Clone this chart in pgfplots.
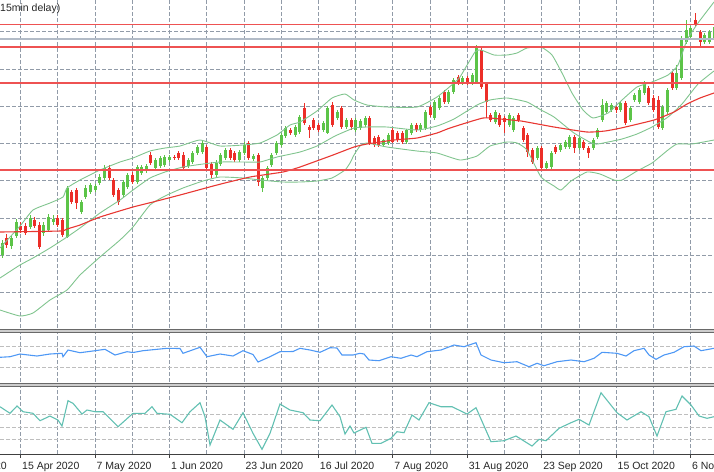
\documentclass[border=0pt]{standalone}
\usepackage{fontspec}
\setmainfont{Liberation Sans}
\usepackage{pgfplots}
\pgfplotsset{compat=1.18}
\usepackage{pgfplotstable}

\definecolor{gridc}{RGB}{145,155,168}
\definecolor{gridl}{RGB}{190,190,190}
\definecolor{candG}{RGB}{92,196,72}
\definecolor{candR}{RGB}{236,46,40}
\definecolor{bbC}{RGB}{128,196,142}
\definecolor{maC}{RGB}{232,55,50}
\definecolor{hlC}{RGB}{238,82,82}
\definecolor{priceC}{RGB}{178,187,199}
\definecolor{blueC}{RGB}{78,152,245}
\definecolor{tealC}{RGB}{98,192,178}
\definecolor{sepC}{RGB}{105,105,105}
\definecolor{sepF}{RGB}{205,205,205}

% candles: i = bar index, prices in screen units (smaller = higher)
\pgfplotstableread{
i o h l c
-4 255 240 258 243
-2 246 236 249 238
-1 236 219 238 222
2 227 215 229 218
5 233 222 236 225
6 230 214 231 217
7 222 215 225 219
10 237 186 238 188
13 212 200 214 202
14 197 185 199 188
15 192 183 194 185
16 190 184 192 186
17 183 174 185 177
18 178 165 180 168
22 195 180 197 182
23 187 173 189 175
25 182 165 184 167
26 173 165 175 167
27 170 164 173 166
29 168 158 170 160
30 166 156 168 158
31 165 155 167 157
32 160 155 162 157
36 166 158 168 160
37 162 151 164 153
38 153 145 155 147
39 152 141 154 143
42 175 160 177 163
43 164 153 166 155
44 158 148 160 150
47 160 150 162 152
48 153 142 155 145
50 159 154 161 156
52 188 176 192 178
53 178 166 180 168
54 165 153 167 155
55 153 141 155 143
56 145 133 147 135
57 136 126 138 128
59 135 125 137 127
60 132 115 134 117
65 130 121 132 123
66 133 106 134 108
68 118 110 120 112
70 127 118 129 120
72 130 118 132 120
73 128 119 130 121
74 125 116 127 118
78 145 139 147 140
79 143 133 145 135
83 142 129 144 130
84 133 123 135 125
86 130 123 132 125
87 128 110 130 112
89 118 100 120 102
90 108 96 110 98
92 102 90 104 92
93 92 78 94 80
95 83 76 85 78
97 83 73 85 75
98 82 45 84 48
102 122 110 124 112
105 125 113 127 115
106 130 116 132 118
111 158 146 160 148
113 168 161 170 163
114 167 151 169 153
116 150 143 152 145
117 147 140 149 142
118 147 135 149 137
120 148 136 150 138
123 148 138 150 140
124 137 128 139 130
125 120 99 122 105
126 112 101 114 103
127 110 103 112 105
129 110 101 112 103
131 120 106 122 108
132 100 93 102 95
133 102 88 104 90
134 93 81 95 83
138 128 105 130 107
139 112 88 114 90
141 88 65 90 73
142 78 36 80 38
143 42 20 44 30
144 37 26 39 28
147 42 33 44 35
148 42 30 44 32
149 38 25 40 27
}\greentab

\pgfplotstableread{
i o h l c
-3 238 234 248 245
0 226 222 233 230
1 226 223 235 233
3 220 217 228 226
4 225 222 249 247
8 218 215 227 225
9 220 218 237 235
11 192 190 204 202
12 190 188 209 203
19 168 165 180 178
20 180 178 197 195
21 190 188 205 202
24 175 172 184 182
28 155 152 165 163
33 157 155 160 158
34 153 151 160 158
35 155 152 170 168
40 147 145 170 168
41 164 162 178 175
45 150 148 160 158
46 153 151 162 160
49 143 141 160 158
51 155 153 186 182
58 130 128 135 133
61 108 103 125 123
62 127 125 138 130
63 120 118 130 128
64 125 123 132 130
67 105 102 127 125
69 108 106 129 127
71 120 118 130 127
75 118 116 145 143
76 138 136 147 145
77 137 135 147 145
80 130 128 143 142
81 133 131 142 140
82 133 131 144 142
85 125 123 132 130
88 107 105 117 115
91 92 90 104 102
94 77 75 85 83
96 78 76 85 83
99 50 48 89 87
100 84 82 118 102
101 115 113 122 120
103 115 113 127 125
104 118 116 133 122
107 115 113 122 120
108 128 126 142 140
109 135 133 157 152
110 150 148 164 162
112 148 146 170 168
115 147 145 154 152
119 137 135 153 148
121 142 140 150 148
122 148 146 158 153
128 107 105 113 110
130 103 101 125 123
135 88 86 105 103
136 98 95 112 110
137 100 96 129 127
140 73 71 90 88
145 20 13 27 25
146 32 30 48 42
}\redtab

\begin{document}
\begin{tikzpicture}[x=1pt,y=1pt,every node/.style={font=\fontsize{10.5}{12}\selectfont}]
\path[use as bounding box] (0,0) rectangle (714,-471);

\begin{axis}[
    scale only axis, width=714pt, height=454pt,
    xmin=0, xmax=714, ymin=0, ymax=454,
    y dir=reverse, anchor=north west, at={(0,0)},
    axis line style={draw=none},
    tick style={draw=none},
    xticklabels={}, yticklabels={},
    grid=major,
    grid style={gridc, dash pattern=on 3.5pt off 2.5pt, line width=0.9pt},
    xtick={20.7,57.92,95.14,132.36,169.58,206.8,244.02,281.24,318.46,355.68,392.9,430.12,467.34,504.56,541.78,579.0,616.22,653.44,690.66},
    ytick={31.7,69,106.3,143.6,180.9,218.2,255.5,292.8},
  ]
  % indicator window grid levels
  \addplot[gridl, dash pattern=on 3.5pt off 2.5pt, line width=0.9pt] coordinates {(0,346.7) (714,346.7)};
  \addplot[gridl, dash pattern=on 3.5pt off 2.5pt, line width=0.9pt] coordinates {(0,367.7) (714,367.7)};
  \addplot[gridl, dash pattern=on 3.5pt off 2.5pt, line width=0.9pt] coordinates {(0,414.3) (714,414.3)};
  \addplot[gridl, dash pattern=on 3.5pt off 2.5pt, line width=0.9pt] coordinates {(0,427.3) (714,427.3)};
  \addplot[gridl, dash pattern=on 3.5pt off 2.5pt, line width=0.9pt] coordinates {(0,439.3) (714,439.3)};
  % candles
  \addplot[candG, line width=1pt, quiver={u=0, v=\thisrow{l}-\thisrow{h}}]
    table[x expr=20.7+4.653*\thisrow{i}, y=h] \greentab;
  \addplot[candG, line width=3pt, quiver={u=0, v=\thisrow{o}-\thisrow{c}}]
    table[x expr=20.7+4.653*\thisrow{i}, y=c] \greentab;
  \addplot[candR, line width=1pt, quiver={u=0, v=\thisrow{l}-\thisrow{h}}]
    table[x expr=20.7+4.653*\thisrow{i}, y=h] \redtab;
  \addplot[candR, line width=3pt, quiver={u=0, v=\thisrow{c}-\thisrow{o}}]
    table[x expr=20.7+4.653*\thisrow{i}, y=o] \redtab;
  % Bollinger bands
  \addplot[bbC, line width=0.9pt, smooth, tension=0.3] coordinates {
    (0,248) (20,226) (33,210) (50,203) (63,197) (67,188) (80,180) (100,170)
    (120,162) (133,158) (150,151) (165,148) (180,146) (200,140) (220,146)
    (243,145) (260,143) (277,135) (290,125) (300,122) (317,111) (332,98)
    (345,94) (354,100) (367,105) (387,107) (417,107) (437,97) (454,83)
    (460,77) (475,52) (481,50) (494,55) (507,55) (517,53) (527,48) (541,47)
    (552,55) (562,73) (572,93) (583,110) (593,118) (608,113) (622,100)
    (637,87) (652,82) (668,75) (678,65) (687,40) (698,23) (714,2)};
  \addplot[bbC, line width=0.9pt, smooth, tension=0.3] coordinates {
    (0,278) (20,265) (33,258) (50,248) (67,237) (80,228) (100,213) (120,200)
    (133,190) (150,178) (165,172) (183,167) (203,164) (220,162) (243,162)
    (260,162) (277,157) (300,152) (317,146) (335,136) (354,128) (367,127)
    (387,127) (417,130) (437,126) (454,119) (477,105) (490,100) (507,98)
    (527,102) (541,110) (554,117) (574,133) (594,144) (608,142) (622,139)
    (637,134) (652,127) (668,117) (682,104) (698,84) (714,71)};
  \addplot[bbC, line width=0.9pt, smooth, tension=0.3] coordinates {
    (0,310) (20,316) (33,313) (50,300) (67,290) (80,275) (100,257) (120,240)
    (133,227) (150,205) (165,196) (183,188) (203,181) (220,177) (243,178)
    (260,180) (283,182) (300,182) (317,181) (332,178) (345,170) (350,163)
    (354,155) (360,146) (367,143) (387,147) (417,151) (437,153) (460,160)
    (477,156) (490,146) (507,142) (517,143) (527,150) (541,177) (554,186)
    (561,190) (571,181) (587,172) (600,174) (614,180) (622,180) (637,171)
    (652,163) (668,150) (677,144) (692,144) (714,140)};
  % moving average
  \addplot[maC, line width=1.1pt, smooth, tension=0.3] coordinates {
    (0,232) (60,231) (67,229) (80,225) (100,217) (133,207) (153,202) (180,195)
    (217,185) (250,177) (283,172) (300,167) (333,155) (354,147) (367,144)
    (394,140) (417,138) (437,133) (450,128) (483,118) (500,119) (521,121)
    (554,127) (587,132) (605,131) (621,128) (654,120) (674,112) (687,104)
    (700,98) (714,93)};
  % horizontal levels
  \addplot[hlC, line width=1.6pt] coordinates {(0,24.3) (714,24.3)};
  \addplot[hlC, line width=1.6pt] coordinates {(0,46.7) (714,46.7)};
  \addplot[hlC, line width=1.6pt] coordinates {(0,82.7) (714,82.7)};
  \addplot[hlC, line width=1.6pt] coordinates {(0,170) (714,170)};
  \addplot[priceC, line width=1.6pt] coordinates {(0,39) (714,39)};
  % first indicator window
  \addplot[blueC, line width=1.1pt] coordinates {
    (0,357.3) (10,356.7) (20,354) (37,356) (50,354) (62,353.3) (63,356.7)
    (68,350) (80,352.7) (95,350.7) (105,349.3) (115,355) (127,351.7)
    (133,352.5) (143,350.7) (157,349.3) (167,348.3) (180,348.5) (183,353.3)
    (200,347.3) (207,356.7) (220,354) (233,356) (243,350.7) (253,354.5)
    (258,362) (270,356.7) (280,351.7) (293,351.5) (300,348.3) (310,350)
    (320,352.3) (330,347.7) (337,348) (342,355) (353,355) (360,353.3)
    (364,354) (369,360) (379,360.7) (391,356.7) (401,358.3) (411,355)
    (417,356.7) (427,351.7) (441,350) (454,345) (464,346.7) (476,342.7)
    (481,355) (491,360) (504,362.7) (517,361.7) (529,366.7) (537,363.3)
    (544,365.7) (557,361.7) (571,360) (584,361.7) (594,358.3) (602,352.3)
    (617,353.3) (626,356) (634,350.7) (644,348.3) (649,355) (656,359.3)
    (664,355) (674,352.3) (684,346.7) (694,346) (701,350.7) (714,348.3)};
  % second indicator window
  \addplot[tealC, line width=1.1pt] coordinates {
    (0,406.7) (10,413.3) (17,406) (23,411.7) (33,413.3) (40,420.7) (50,416)
    (58,420) (62,426) (68,400.7) (73,403.3) (82,414) (87,410) (95,411.7)
    (103,411.7) (118,426.7) (133,413.3) (145,413.3) (152,406.7) (157,413.3)
    (170,414.3) (182,422.7) (190,411.7) (200,402.7) (205,416.7) (210,445)
    (220,420) (233,429.3) (243,412.7) (253,433.3) (262,449.3) (270,433.3)
    (280,404) (290,410) (303,412.7) (310,420) (320,420.7) (332,405)
    (340,416.7) (345,434) (350,426) (354,433) (366,427.3) (372,443.3)
    (381,443.3) (391,438.3) (397,431.7) (404,432.7) (412,415) (419,420)
    (429,402.7) (441,406.7) (452,406.7) (467,414) (476,407.7) (491,441.7)
    (504,440.7) (516,436) (532,446) (539,439.3) (546,440.7) (559,428.3)
    (571,422.7) (579,419.3) (589,425) (601,392.7) (617,412.7) (627,420)
    (641,411.7) (649,416.7) (657,436) (666,411.7) (676,409.3) (682,396)
    (691,405) (699,416) (707,418.3) (714,416.7)};
\end{axis}

% ---------- window separators and time axis ----------
\fill[white] (0,-328.6) rectangle (714,-333);
\fill[sepF] (0,-329) rectangle (714,-332.5);
\draw[sepC, line width=0.9pt] (0,-329.45) -- (714,-329.45);
\draw[sepC, line width=0.9pt] (0,-332.05) -- (714,-332.05);
\fill[white] (0,-382.6) rectangle (714,-387);
\fill[sepF] (0,-383) rectangle (714,-386.5);
\draw[sepC, line width=0.9pt] (0,-383.45) -- (714,-383.45);
\draw[sepC, line width=0.9pt] (0,-386.05) -- (714,-386.05);
\draw[black!75, line width=0.9pt] (0,-454.2) -- (714,-454.2);

\foreach \xx/\lab in {-53.74/24 Mar 2020, 20.7/15 Apr 2020, 95.14/7 May 2020,
  169.58/1 Jun 2020, 244.02/23 Jun 2020, 318.46/16 Jul 2020,
  392.9/7 Aug 2020, 467.34/31 Aug 2020, 541.78/23 Sep 2020,
  616.22/15 Oct 2020, 690.66/6 Nov 2020} {
  \draw[black!75, line width=0.9pt] (\xx,-454.2) -- (\xx,-458);
  \node[anchor=base west, inner sep=0pt, text=black!85] at (\xx+1.3,-469.6) {\lab};
}
\node[anchor=base east, inner sep=0pt, text=black!85] at (60.5,-11.7) {(15min delay)};
\end{tikzpicture}
\end{document}
